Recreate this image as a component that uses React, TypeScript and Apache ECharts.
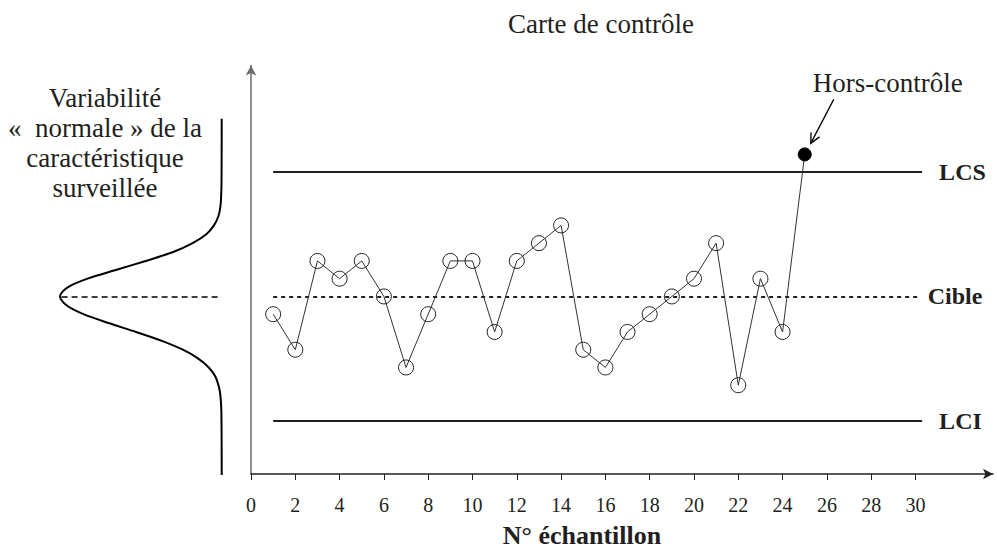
import React, { useEffect, useRef } from "react";
import * as echarts from "echarts";

// ---- data ----
const sampleNumbers = [1, 2, 3, 4, 5, 6, 7, 8, 9, 10, 11, 12, 13, 14, 15, 16, 17, 18, 19, 20, 21, 22, 23, 24, 25];
const sampleValues = [-1, -3, 2, 1, 2, 0, -4, -1, 2, 2, -2, 2, 3, 4, -3, -4, -2, -1, 0, 1, 3, -5, 1, -2, 8];
const LCS = 7;
const CIBLE = 0;
const LCI = -7;
const limitStart = 1;
const limitEnd = 30.3;
const cibleEnd = 30.1;
const xTicks = [0, 2, 4, 6, 8, 10, 12, 14, 16, 18, 20, 22, 24, 26, 28, 30];

// "normal" variability curve (level on the chart scale, relative spread 0..1)
const bellLevels = [
  10, 6.5, 5.5, 5, 4.5, 4, 3.5, 3, 2.5, 2, 1.5, 1, 0.5, 0,
  -0.5, -1, -1.5, -2, -2.5, -3, -3.5, -4, -4.5, -5, -5.5, -6.5, -10.3,
];
const bellSpread = [
  0, 0.001, 0.004, 0.009, 0.021, 0.048, 0.095, 0.18, 0.3, 0.47, 0.65, 0.83, 0.955, 1,
  0.96, 0.855, 0.7, 0.53, 0.37, 0.24, 0.145, 0.08, 0.04, 0.02, 0.009, 0.002, 0,
];

const INK = "#231f20";
const SERIF = '"Liberation Serif", "Times New Roman", serif';

export default function App() {
  const ref = useRef<HTMLDivElement>(null);

  useEffect(() => {
    const chart = echarts.init(ref.current!, null, { renderer: "svg" });

    const mainData = sampleValues.map((v, i) =>
      v > LCS
        ? {
            value: [sampleNumbers[i], v],
            symbolSize: 13,
            itemStyle: { color: "#000", borderColor: "#000" },
          }
        : [sampleNumbers[i], v]
    );

    const limitLabel = (text: string, distance: number) => ({
      show: true,
      position: "end",
      distance,
      formatter: text,
      fontFamily: SERIF,
      fontSize: 24,
      fontWeight: "bold",
      color: INK,
    });

    const option: any = {
      animation: false,
      backgroundColor: "#fff",
      grid: [
        { left: 251, right: 4, top: 65.6, bottom: 75 },
        { left: 60, right: 775.3, top: 65.6, bottom: 75 },
      ],
      xAxis: [
        {
          gridIndex: 0,
          type: "value",
          min: 0,
          max: 33.5,
          interval: 2,
          splitLine: { show: false },
          axisLine: {
            show: true,
            onZero: false,
            symbol: ["none", "arrow"],
            symbolSize: [8, 10],
            lineStyle: { color: INK, width: 1.5 },
          },
          axisTick: {
            show: true,
            length: 6,
            customValues: xTicks,
            lineStyle: { color: INK, width: 1 },
          },
          axisLabel: {
            show: true,
            customValues: xTicks,
            margin: 21,
            fontFamily: SERIF,
            fontSize: 20,
            color: INK,
          },
        },
        {
          gridIndex: 1,
          type: "value",
          min: 0,
          max: 1,
          inverse: true,
          show: false,
        },
      ],
      yAxis: [
        {
          gridIndex: 0,
          type: "value",
          min: -10,
          max: 13,
          splitLine: { show: false },
          axisTick: { show: false },
          axisLabel: { show: false },
          axisLine: {
            show: true,
            onZero: false,
            symbol: ["none", "arrow"],
            symbolSize: [8, 10],
            lineStyle: { color: "#6b6b6b", width: 1.5 },
          },
        },
        {
          gridIndex: 1,
          type: "value",
          min: -10,
          max: 13,
          show: false,
        },
      ],
      series: [
        {
          type: "line",
          xAxisIndex: 0,
          yAxisIndex: 0,
          data: mainData,
          symbol: "circle",
          symbolSize: 15,
          lineStyle: { color: "#333", width: 1 },
          itemStyle: { color: "rgba(0,0,0,0)", borderColor: "#222", borderWidth: 1 },
          z: 5,
          markLine: {
            silent: true,
            symbol: ["none", "none"],
            data: [
              [
                { coord: [limitStart, LCS], lineStyle: { color: INK, width: 2, type: "solid" }, label: limitLabel("LCS", 17) },
                { coord: [limitEnd, LCS] },
              ],
              [
                { coord: [limitStart, CIBLE], lineStyle: { color: INK, width: 2, type: [4, 4] }, label: limitLabel("Cible", 10) },
                { coord: [cibleEnd, CIBLE] },
              ],
              [
                { coord: [limitStart, LCI], lineStyle: { color: INK, width: 2, type: "solid" }, label: limitLabel("LCI", 17) },
                { coord: [limitEnd, LCI] },
              ],
            ],
          },
        },
        {
          type: "line",
          xAxisIndex: 1,
          yAxisIndex: 1,
          data: bellLevels.map((y, i) => [bellSpread[i], y]),
          symbol: "none",
          smooth: 0.3,
          lineStyle: { color: "#000", width: 2 },
          markLine: {
            silent: true,
            symbol: ["none", "none"],
            label: { show: false },
            lineStyle: { color: "#000", width: 1.5, type: [6, 4] },
            data: [[{ coord: [0.99, CIBLE] }, { coord: [0, CIBLE] }]],
          },
        },
      ],
    };

    chart.setOption(option);

    const idx = sampleValues.findIndex((v) => v > LCS);
    const p = chart.convertToPixel({ seriesIndex: 0 }, [sampleNumbers[idx], sampleValues[idx]]) as number[];
    const end = [p[0] + 6, p[1] - 11];
    const start = [end[0] + 23, end[1] - 44];
    const dx = start[0] - end[0];
    const dy = start[1] - end[1];
    const len = Math.hypot(dx, dy);
    const ux = dx / len;
    const uy = dy / len;
    const wing = 11;
    const ang = (26 * Math.PI) / 180;
    const rot = (a: number) => [
      end[0] + wing * (ux * Math.cos(a) - uy * Math.sin(a)),
      end[1] + wing * (ux * Math.sin(a) + uy * Math.cos(a)),
    ];

    chart.setOption({
      graphic: [
        {
          type: "text",
          x: 601,
          y: 24,
          style: { text: "Carte de contrôle", font: `27px ${SERIF}`, fill: INK, textAlign: "center", textVerticalAlign: "middle" },
        },
        {
          type: "text",
          x: 582,
          y: 535,
          style: { text: "N° échantillon", font: `bold 26px ${SERIF}`, fill: INK, textAlign: "center", textVerticalAlign: "middle" },
        },
        {
          type: "text",
          x: 105,
          y: 83,
          style: {
            text: "Variabilité\n«\u00a0\u00a0normale\u00a0» de la\ncaractéristique\nsurveillée",
            font: `27px ${SERIF}`,
            lineHeight: 30,
            fill: INK,
            textAlign: "center",
            textVerticalAlign: "top",
          },
        },
        {
          type: "text",
          x: p[0] + 83,
          y: p[1] - 71,
          style: { text: "Hors-contrôle", font: `27px ${SERIF}`, fill: INK, textAlign: "center", textVerticalAlign: "middle" },
        },
        {
          type: "line",
          shape: { x1: start[0], y1: start[1], x2: end[0], y2: end[1] },
          style: { stroke: "#000", lineWidth: 1.3 },
        },
        {
          type: "polyline",
          shape: { points: [rot(ang), end, rot(-ang)] },
          style: { stroke: "#000", lineWidth: 1.3, fill: "none" },
        },
      ],
    });

    return () => chart.dispose();
  }, []);

  return (
    <div
      ref={ref}
      style={{ position: "absolute", left: 0, top: 0, width: 997, height: 549, background: "#fff" }}
    />
  );
}
